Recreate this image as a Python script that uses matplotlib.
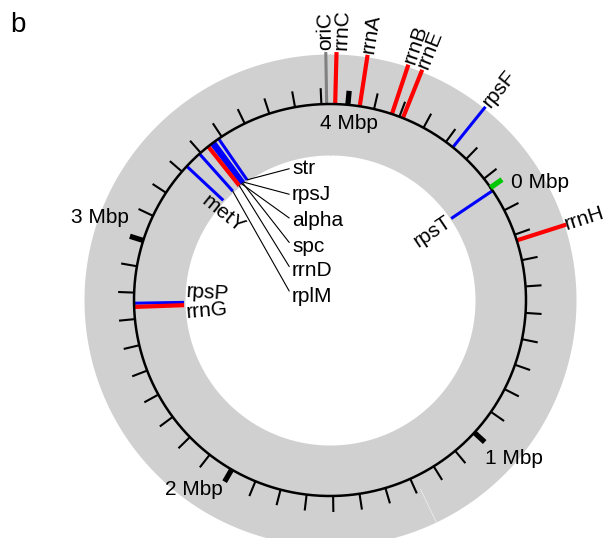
import numpy as np
import matplotlib.pyplot as plt

plt.rcParams['font.family'] = ['Liberation Sans', 'DejaVu Sans']

# genome (Mbp)
genome_mb = 4.6417
tick_mb = np.round(np.arange(0, 4.65, 0.1), 1)
mbp_pos = [0, 1, 2, 3, 4]
mbp_labels = ['0 Mbp', '1 Mbp', '2 Mbp', '3 Mbp', '4 Mbp']

# features labelled outside the circle
out_names = ['oriC', 'rrnC', 'rrnA', 'rrnB', 'rrnE', 'rpsF', 'rrnH']
out_pos = [3.920, 3.952, 4.045, 4.170, 4.214, 4.433, 0.223]
out_kind = ['ori', 'rrn', 'rrn', 'rrn', 'rrn', 'rps', 'rrn']

# features labelled inside
in_names = ['rpsT', 'rpsP', 'rrnG', 'metY']
in_pos = [0.014, 2.760, 2.746, 3.327]
in_kind = ['rps', 'rps', 'rrn', 'rps']

# crowded cluster with leader lines
cl_names = ['str', 'rpsJ', 'alpha', 'spc', 'rrnD', 'rplM']
cl_pos = [3.486, 3.466, 3.452, 3.459, 3.437, 3.394]
cl_kind = ['rps', 'rps', 'rps', 'rps', 'rrn', 'rps']

colors = {'rrn': '#ff0000', 'rps': '#0000ff', 'ori': '#808080'}
widths = {'rrn': 3.0, 'rps': 2.2, 'ori': 2.2}

# layout
R_IN, R_CIRC, R_OUT = 145, 196, 246
ZERO_DEG = 55.0          # where 0 Mbp sits, clockwise from top
FS = 15


def th(pos, nudge=0.0):
    return 2 * np.pi * pos / genome_mb + np.deg2rad(nudge)


def screen_deg(pos, nudge=0.0):
    return (ZERO_DEG + pos / genome_mb * 360 + nudge) % 360


fig = plt.figure(figsize=(6.08, 5.38), dpi=100)
ax = fig.add_axes([80 / 608, -12 / 538, 500 / 608, 500 / 538], projection='polar')
ax.set_theta_direction(-1)
ax.set_theta_zero_location('N', offset=-ZERO_DEG)
ax.set_ylim(0, 250)
ax.set_axis_off()

# grey band and backbone
full = np.linspace(0, 2 * np.pi, 721)
ax.fill_between(full, R_IN, R_OUT, color='#d0d0d0', lw=0, zorder=0)
ax.plot([th(1.282)] * 2, [210, R_OUT], color='#ececec', lw=0.6, zorder=1)

# feature lines
for p, k in zip(out_pos, out_kind):
    ax.plot([th(p)] * 2, [R_CIRC, 248], color=colors[k], lw=widths[k],
            solid_capstyle='butt', zorder=2)
for p, k in zip(in_pos + cl_pos, in_kind + cl_kind):
    ax.plot([th(p)] * 2, [R_CIRC, R_IN + 1], color=colors[k], lw=widths[k],
            solid_capstyle='butt', zorder=2)

ax.plot(full, np.full_like(full, R_CIRC), color='black', lw=1.8, zorder=3)

# ticks every 100 kb, thick every Mbp
for t in tick_mb:
    if t in mbp_pos:
        col = '#00c800' if t == 0 else 'black'
        ax.plot([th(t)] * 2, [R_CIRC, 210], color=col, lw=3.8,
                solid_capstyle='butt', zorder=4)
    else:
        ax.plot([th(t)] * 2, [R_CIRC, 212], color='black', lw=1.5,
                solid_capstyle='butt', zorder=4)

# Mbp labels
mb_nudge = [2.0, 3.0, -0.5, 4.7, 1.0]
mb_r = [216, 222, 218, 218, 178]
mb_ha = ['left', 'left', 'right', 'right', 'center']
for p, lab, n, r, ha in zip(mbp_pos, mbp_labels, mb_nudge, mb_r, mb_ha):
    ax.text(th(p, n), r, lab, ha=ha, va='center', fontsize=FS, zorder=5)

# outside labels, reading outward
out_nudge = {'rrnC': (1.0, 250), 'rrnH': (0.0, 247)}
for name, p in zip(out_names, out_pos):
    n, r = out_nudge.get(name, (0.0, 250))
    d = screen_deg(p, n)
    d = d - 360 if d > 180 else d
    ax.text(th(p, n), r, name, rotation=90 - d, rotation_mode='anchor',
            ha='left', va='center', fontsize=FS, zorder=5)

# inside labels
in_place = {'rpsT': (0.0, 144, 'right'), 'rpsP': (4.5, 144, 'left'),
            'rrnG': (-2.8, 144, 'left'), 'metY': (-4.3, 137, 'center')}
for name, p in zip(in_names, in_pos):
    n, r, ha = in_place[name]
    d = screen_deg(p, n)
    rot = 90 - d if d < 180 else 270 - d
    ax.text(th(p, n), r, name, rotation=rot, rotation_mode='anchor',
            ha=ha, va='center', fontsize=FS, zorder=5)

# cluster labels stacked on the right with leader lines
cl_y = [168, 195, 220, 246, 271, 296]
for name, p, y in zip(cl_names, cl_pos, cl_y):
    ax.annotate(name, xy=(th(p), R_IN + 1), xytext=(292, 538 - y),
                textcoords='figure pixels', ha='left', va='center',
                fontsize=FS, zorder=5,
                arrowprops=dict(arrowstyle='-', lw=0.8, color='black',
                                shrinkA=0, shrinkB=0, relpos=(0, 0.5)))

fig.text(10 / 608, 1 - 32 / 538, 'b', fontsize=20, va='baseline', ha='left')

fig.savefig('out.png', dpi=100)
